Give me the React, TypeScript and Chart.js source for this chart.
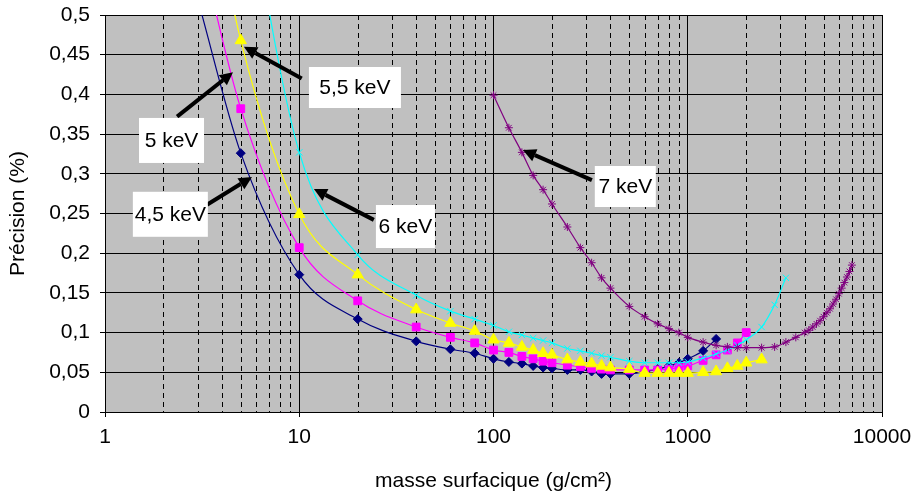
import React, { useEffect, useRef } from 'react';
import { Chart, registerables } from 'chart.js';

Chart.register(...registerables);

// ---- data ----
const MASS_45 = [3, 5, 10, 20, 40, 60, 80, 100, 120, 140, 160, 180, 200, 240, 280, 320, 360, 400, 500, 600, 700, 800, 900, 1000, 1200, 1400];
const PREC_45 = [0.52, 0.326, 0.173, 0.117, 0.089, 0.079, 0.074, 0.067, 0.063, 0.061, 0.058, 0.056, 0.055, 0.053, 0.053, 0.051, 0.048, 0.048, 0.048, 0.051, 0.054, 0.058, 0.062, 0.067, 0.077, 0.092];

const MASS_5 = [3, 5, 10, 20, 40, 60, 80, 100, 120, 140, 160, 180, 200, 240, 280, 320, 360, 400, 500, 600, 700, 800, 900, 1000, 1200, 1400, 1600, 1800, 2000];
const PREC_5 = [0.6, 0.382, 0.207, 0.14, 0.107, 0.094, 0.087, 0.078, 0.075, 0.07, 0.067, 0.064, 0.062, 0.059, 0.057, 0.055, 0.054, 0.053, 0.053, 0.053, 0.053, 0.054, 0.056, 0.058, 0.065, 0.072, 0.078, 0.087, 0.1];

const MASS_55 = [3, 5, 10, 20, 40, 60, 80, 100, 120, 140, 160, 180, 200, 240, 280, 320, 360, 400, 500, 600, 700, 800, 900, 1000, 1200, 1400, 1600, 1800, 2000, 2400];
const PREC_55 = [0.74, 0.468, 0.249, 0.173, 0.129, 0.112, 0.102, 0.091, 0.087, 0.082, 0.078, 0.074, 0.072, 0.066, 0.063, 0.061, 0.058, 0.056, 0.054, 0.049, 0.049, 0.049, 0.049, 0.049, 0.05, 0.051, 0.055, 0.058, 0.062, 0.066];

const MASS_6 = [5, 10, 20, 40, 60, 80, 100, 120, 140, 160, 180, 200, 240, 280, 320, 360, 400, 500, 600, 700, 800, 900, 1000, 1200, 1400, 1600, 1800, 2000, 2400, 2800, 3200];
const PREC_6 = [0.7, 0.327, 0.198, 0.147, 0.127, 0.117, 0.109, 0.101, 0.097, 0.093, 0.09, 0.087, 0.08, 0.077, 0.074, 0.071, 0.069, 0.064, 0.062, 0.062, 0.062, 0.062, 0.063, 0.068, 0.073, 0.078, 0.084, 0.091, 0.107, 0.135, 0.169];

const MASS_7 = [100, 120, 140, 160, 180, 200, 240, 280, 320, 360, 400, 500, 600, 700, 800, 900, 1000, 1200, 1400, 1600, 1800, 2000, 2400, 2800, 3200, 3600, 4000, 4200, 4400, 4600, 4800, 5000, 5200, 5400, 5600, 5800, 6000, 6200, 6400, 6600, 6800, 7000];
const PREC_7 = [0.399, 0.358, 0.327, 0.298, 0.28, 0.262, 0.233, 0.207, 0.188, 0.169, 0.156, 0.133, 0.12, 0.111, 0.105, 0.1, 0.094, 0.088, 0.084, 0.082, 0.081, 0.081, 0.081, 0.082, 0.088, 0.094, 0.1, 0.103, 0.107, 0.111, 0.115, 0.12, 0.125, 0.13, 0.136, 0.142, 0.149, 0.156, 0.163, 0.17, 0.177, 0.185];

const SERIES_LABELS = ['4,5 keV', '5 keV', '5,5 keV', '6 keV', '7 keV'];
const X_TICK_LABELS = ['1', '10', '100', '1000', '10000'];
const X_TITLE = 'masse surfacique (g/cm²)';
const Y_TITLE = 'Précision (%)';

// callouts: text, box centre (data coords), arrow tail and head (data coords)
const CALLOUTS = [
  { text: '5,5 keV', bx: 19.35, by: 0.4087, w: 92, h: 41, tx: 10.3, ty: 0.42, hx: 5.19, hy: 0.46 },
  { text: '5 keV', bx: 2.2, by: 0.342, w: 65, h: 45, tx: 2.35, ty: 0.372, hx: 4.56, hy: 0.428 },
  { text: '4,5 keV', bx: 2.17, by: 0.249, w: 75, h: 45, tx: 3.35, ty: 0.261, hx: 5.71, hy: 0.296 },
  { text: '6 keV', bx: 35.2, by: 0.2336, w: 59, h: 43, tx: 24.2, ty: 0.242, hx: 11.9, hy: 0.281 },
  { text: '7 keV', bx: 477, by: 0.284, w: 61, h: 41, tx: 321, ty: 0.292, hx: 141.7, hy: 0.33 },
];

const FONT = 'Liberation Sans, Arial, sans-serif';

const isPow10 = (v: number) => Math.abs(Math.log10(v) - Math.round(Math.log10(v))) < 1e-9;
const fmtY = (v: number) => String(parseFloat(Number(v).toFixed(2))).replace('.', ',');

const plotPlugin = {
  id: 'plotBg',
  beforeDraw(chart: any) {
    const { ctx, chartArea: a, scales } = chart;
    ctx.save();
    ctx.fillStyle = '#c0c0c0';
    ctx.fillRect(a.left, a.top, a.right - a.left, a.bottom - a.top);
    ctx.strokeStyle = '#000';
    ctx.lineWidth = 1;
    ctx.setLineDash([5, 4]);
    const xs = scales.x;
    for (let d = 0; d < 4; d++) {
      for (let m = 2; m <= 9; m++) {
        const px = Math.round(xs.getPixelForValue(m * Math.pow(10, d))) + 0.5;
        ctx.beginPath();
        ctx.moveTo(px, a.top);
        ctx.lineTo(px, a.bottom);
        ctx.stroke();
      }
    }
    ctx.restore();
  },
};

const calloutPlugin = {
  id: 'callouts',
  afterDatasetsDraw(chart: any) {
    const { ctx, scales } = chart;
    const X = (v: number) => scales.x.getPixelForValue(v);
    const Y = (v: number) => scales.y.getPixelForValue(v);
    ctx.save();
    for (const c of CALLOUTS) {
      const x0 = X(c.tx), y0 = Y(c.ty), x1 = X(c.hx), y1 = Y(c.hy);
      const ang = Math.atan2(y1 - y0, x1 - x0);
      const hl = 13, hw = 6.5;
      const bx = x1 - hl * Math.cos(ang), by = y1 - hl * Math.sin(ang);
      ctx.strokeStyle = '#000';
      ctx.fillStyle = '#000';
      ctx.lineWidth = 4;
      ctx.beginPath();
      ctx.moveTo(x0, y0);
      ctx.lineTo(bx, by);
      ctx.stroke();
      ctx.beginPath();
      ctx.moveTo(x1, y1);
      ctx.lineTo(bx + hw * Math.sin(ang), by - hw * Math.cos(ang));
      ctx.lineTo(bx - hw * Math.sin(ang), by + hw * Math.cos(ang));
      ctx.closePath();
      ctx.fill();
    }
    for (const c of CALLOUTS) {
      const cx = X(c.bx), cy = Y(c.by);
      ctx.fillStyle = '#fff';
      ctx.fillRect(cx - c.w / 2, cy - c.h / 2, c.w, c.h);
      ctx.fillStyle = '#000';
      ctx.font = `21px ${FONT}`;
      ctx.textAlign = 'center';
      ctx.textBaseline = 'middle';
      ctx.fillText(c.text, cx, cy + 1);
    }
    ctx.restore();
  },
};

function makeSet(label: string, xs: number[], ys: number[], color: string, style: string, radius: number) {
  return {
    label,
    data: xs.map((x, i) => ({ x, y: ys[i] })),
    borderColor: color,
    backgroundColor: color,
    pointBackgroundColor: color,
    pointBorderColor: color,
    pointStyle: style,
    pointRadius: radius,
    pointBorderWidth: 1,
    borderWidth: 1.2,
    cubicInterpolationMode: 'monotone',
    fill: false,
    clip: 0,
  };
}

export default function App() {
  const ref = useRef<HTMLCanvasElement>(null);
  useEffect(() => {
    if (!ref.current) return;
    const tickFont = { family: FONT, size: 21 };
    const chart = new Chart(ref.current, {
      type: 'line',
      data: {
        datasets: [
          makeSet(SERIES_LABELS[4], MASS_7, PREC_7, '#800080', 'star', 4),
          makeSet(SERIES_LABELS[3], MASS_6, PREC_6, '#00ffff', 'crossRot', 4.5),
          makeSet(SERIES_LABELS[2], MASS_55, PREC_55, '#ffff00', 'triangle', 6.5),
          makeSet(SERIES_LABELS[1], MASS_5, PREC_5, '#ff00ff', 'rect', 5.5),
          makeSet(SERIES_LABELS[0], MASS_45, PREC_45, '#000080', 'rectRot', 4.5),
        ] as any,
      },
      options: {
        animation: false,
        responsive: true,
        maintainAspectRatio: false,
        layout: { padding: { top: 15, right: 34, left: 0, bottom: 0 } },
        plugins: { legend: { display: false }, tooltip: { enabled: false } },
        scales: {
          x: {
            type: 'logarithmic',
            min: 1,
            max: 10000,
            afterFit: (s: any) => { s.height = 81; s.paddingRight = 0; s.paddingLeft = 0; },
            border: { display: true, color: '#000', width: 1 },
            grid: {
              color: (c: any) => (c.tick && isPow10(c.tick.value) ? '#000' : 'rgba(0,0,0,0)'),
              tickColor: (c: any) => (c.tick && isPow10(c.tick.value) ? '#000' : 'rgba(0,0,0,0)'),
              lineWidth: 1,
              tickLength: 5,
            },
            ticks: {
              autoSkip: false,
              maxRotation: 0,
              padding: 8,
              color: '#000',
              font: tickFont,
              callback: (v: any) => {
                const n = Number(v);
                if (!isPow10(n)) return '';
                return X_TICK_LABELS[Math.round(Math.log10(n))];
              },
            },
            title: { display: true, text: X_TITLE, color: '#000', font: tickFont, padding: { top: 0, bottom: -1 } },
          },
          y: {
            min: 0,
            max: 0.5,
            afterFit: (s: any) => { s.width = 105; s.paddingTop = 0; s.paddingBottom = 0; },
            border: { display: true, color: '#000', width: 1 },
            grid: { color: '#000', lineWidth: 1, tickLength: 5, tickColor: '#000' },
            ticks: {
              stepSize: 0.05,
              padding: 10,
              color: '#000',
              font: tickFont,
              callback: (v: any) => fmtY(Number(v)),
            },
            title: { display: true, text: Y_TITLE, color: '#000', font: tickFont, padding: { top: 6, bottom: 0 } },
          },
        },
      } as any,
      plugins: [plotPlugin, calloutPlugin],
    });
    return () => chart.destroy();
  }, []);
  return (
    <div style={{ position: 'absolute', left: 0, top: 0, width: 916, height: 493, background: '#fff' }}>
      <canvas ref={ref} />
    </div>
  );
}
